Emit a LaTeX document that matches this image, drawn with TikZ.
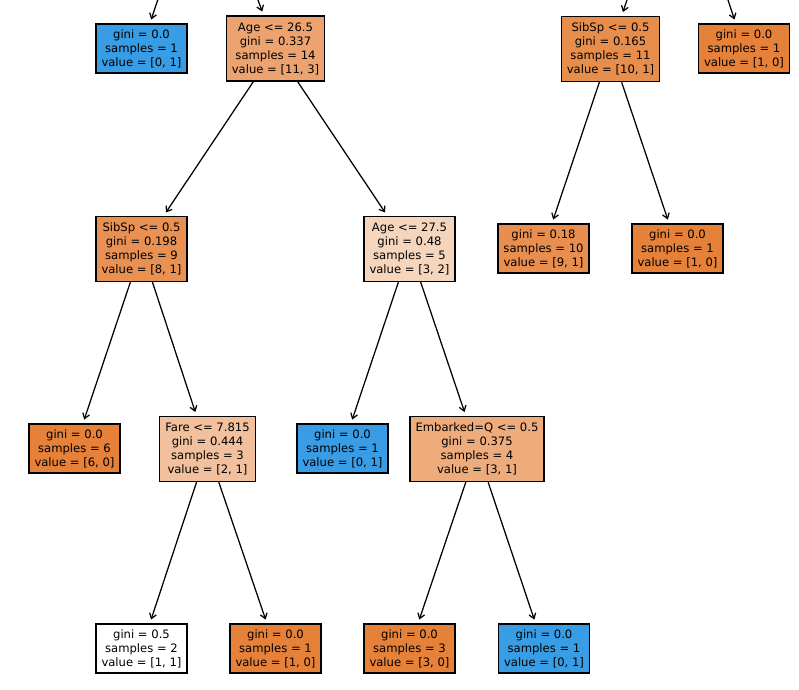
\documentclass[tikz,border=0pt]{standalone}
\usepackage{fontspec}
\setmainfont{DejaVu Sans}
\usetikzlibrary{arrows.meta}
\definecolor{cblue}{RGB}{57,157,229}
\definecolor{corange}{RGB}{229,129,57}
\definecolor{cA}{RGB}{236,163,111}
\definecolor{cB}{RGB}{232,142,77}
\definecolor{cC}{RGB}{232,145,82}
\definecolor{cD}{RGB}{246,213,189}
\definecolor{cE}{RGB}{232,143,79}
\definecolor{cF}{RGB}{242,192,156}
\definecolor{cG}{RGB}{238,171,123}
\begin{document}
\begin{tikzpicture}[x=1bp,y=-1bp,
  box/.style={draw=black, line width=1.3bp, inner xsep=5.5bp, inner ysep=2bp,
    align=center, font=\fontsize{11.6bp}{14bp}\selectfont, text=black},
  leaf/.style={box, minimum height=49bp},
  split/.style={box, minimum height=65bp},
  edge/.style={-{Straight Barb[length=5bp,width=7bp]}, line width=1.25bp, shorten >=4bp}]
\useasboundingbox (0,0) rectangle (799,690);

% top row
\node[leaf, fill=cblue] (n1) at (141.5,48.5) {gini = 0.0\\samples = 1\\value = [0, 1]};
\node[split, fill=cA] (n2) at (275.5,48.5) {Age <= 26.5\\gini = 0.337\\samples = 14\\value = [11, 3]};
\node[split, fill=cB] (n3) at (610.5,49) {SibSp <= 0.5\\gini = 0.165\\samples = 11\\value = [10, 1]};
\node[leaf, fill=corange] (n4) at (744,48.5) {gini = 0.0\\samples = 1\\value = [1, 0]};

% second row
\node[split, fill=cC] (n5) at (141.5,249) {SibSp <= 0.5\\gini = 0.198\\samples = 9\\value = [8, 1]};
\node[split, fill=cD] (n6) at (409.5,249) {Age <= 27.5\\gini = 0.48\\samples = 5\\value = [3, 2]};
\node[leaf, fill=cE] (n7) at (543.5,248.5) {gini = 0.18\\samples = 10\\value = [9, 1]};
\node[leaf, fill=corange] (n8) at (677.5,248.5) {gini = 0.0\\samples = 1\\value = [1, 0]};

% third row
\node[leaf, fill=corange] (n9) at (74.5,448.5) {gini = 0.0\\samples = 6\\value = [6, 0]};
\node[split, fill=cF] (n10) at (207.5,449) {Fare <= 7.815\\gini = 0.444\\samples = 3\\value = [2, 1]};
\node[leaf, fill=cblue] (n11) at (342.5,448.5) {gini = 0.0\\samples = 1\\value = [0, 1]};
\node[split, fill=cG] (n12) at (477,449) {Embarked=Q <= 0.5\\gini = 0.375\\samples = 4\\value = [3, 1]};

% fourth row
\node[leaf, fill=white] (n13) at (141.5,648.5) {gini = 0.5\\samples = 2\\value = [1, 1]};
\node[leaf, fill=corange] (n14) at (275.5,648.5) {gini = 0.0\\samples = 1\\value = [1, 0]};
\node[leaf, fill=corange] (n15) at (409.5,648.5) {gini = 0.0\\samples = 3\\value = [3, 0]};
\node[leaf, fill=cblue] (n16) at (544,648.5) {gini = 0.0\\samples = 1\\value = [0, 1]};

% free ends at the top edge
\coordinate (c1) at (157.7,0);
\coordinate (c2) at (258,0);
\coordinate (c3) at (627,0);
\coordinate (c4) at (728,0);

\draw[edge] (c1) -- (n1);
\draw[edge] (c2) -- (n2);
\draw[edge] (c3) -- (n3);
\draw[edge] (c4) -- (n4);
\draw[edge] (n2) -- (n5);
\draw[edge] (n2) -- (n6);
\draw[edge] (n3) -- (n7);
\draw[edge] (n3) -- (n8);
\draw[edge] (n5) -- (n9);
\draw[edge] (n5) -- (n10);
\draw[edge] (n6) -- (n11);
\draw[edge] (n6) -- (n12);
\draw[edge] (n10) -- (n13);
\draw[edge] (n10) -- (n14);
\draw[edge] (n12) -- (n15);
\draw[edge] (n12) -- (n16);
\end{tikzpicture}
\end{document}
